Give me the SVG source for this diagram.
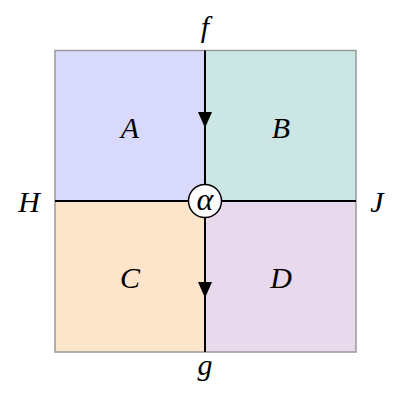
<svg xmlns="http://www.w3.org/2000/svg" width="414" height="404" viewBox="0 0 414 404">
<style>
.lbl{font-family:"Liberation Serif","DejaVu Serif",serif;font-style:italic;font-size:30px;fill:#000;text-anchor:middle}
.region{stroke:none}
.edge{stroke:#000;stroke-width:2;fill:none}
</style>
<defs>
<marker id="arr" markerWidth="16" markerHeight="14" refX="16" refY="7" orient="auto" markerUnits="userSpaceOnUse" viewBox="0 0 16 14">
<path d="M0,0 L16,7 L0,14 Z" fill="#000"/>
</marker>
</defs>
<rect width="414" height="404" fill="#fff"/>
<g id="A"><rect class="region" x="55" y="50.5" width="150" height="150.5" fill="#d9d9fc"/><text class="lbl" x="130" y="138">A</text></g>
<g id="B"><rect class="region" x="205" y="50.5" width="151" height="150.5" fill="#cce6e6"/><text class="lbl" x="281" y="138">B</text></g>
<g id="C"><rect class="region" x="55" y="201" width="150" height="151" fill="#fde5cc"/><text class="lbl" x="130" y="288">C</text></g>
<g id="D"><rect class="region" x="205" y="201" width="151" height="151" fill="#e9d9ec"/><text class="lbl" x="281" y="288">D</text></g>
<rect x="55" y="50.5" width="301" height="301.5" fill="none" stroke="#999" stroke-width="1.5"/>
<g id="connectors">
<line class="edge" x1="55" y1="201" x2="356" y2="201"/>
<line class="edge" x1="205" y1="50.5" x2="205" y2="128" marker-end="url(#arr)"/>
<line class="edge" x1="205" y1="127" x2="205" y2="201"/>
<line class="edge" x1="205" y1="201" x2="205" y2="298" marker-end="url(#arr)"/>
<line class="edge" x1="205" y1="297" x2="205" y2="352"/>
</g>
<g id="alpha"><circle cx="205" cy="201" r="16.5" fill="#fff" stroke="#000" stroke-width="1.5"/><text class="lbl" x="205" y="210" style="font-size:32px">α</text></g>
<g id="f"><text class="lbl" x="205" y="37">f</text></g>
<g id="g"><text class="lbl" x="205" y="375">g</text></g>
<g id="H"><text class="lbl" x="29" y="212">H</text></g>
<g id="J"><text class="lbl" x="377" y="212">J</text></g>
</svg>
